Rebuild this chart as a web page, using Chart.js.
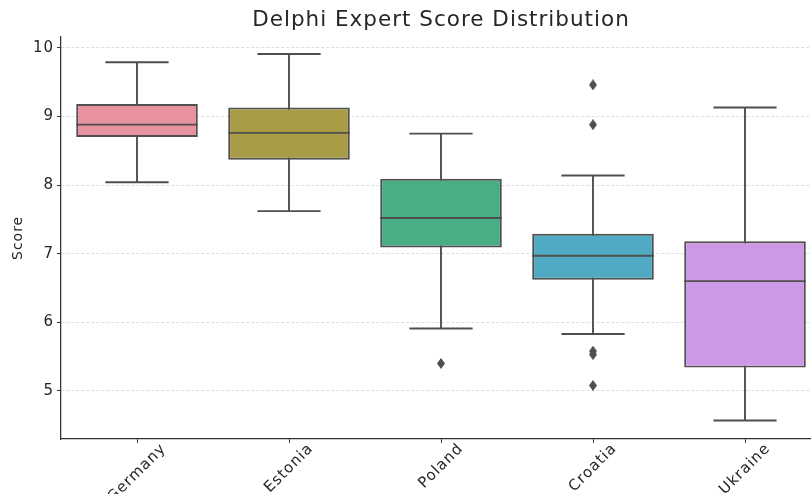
<!DOCTYPE html>
<html>
<head>
<meta charset="utf-8">
<script src="https://cdn.jsdelivr.net/npm/chart.js@4.4.1/dist/chart.umd.min.js"></script>
<style>
  html, body { margin: 0; padding: 0; background: #fff; overflow: hidden; }
  #wrap { width: 882px; height: 494px; }
</style>
</head>
<body>
<div id="wrap"><canvas id="scores" width="882" height="494"></canvas></div>
<script>
const countries = ['Germany', 'Estonia', 'Poland', 'Croatia', 'Ukraine'];
const whiskerLow = [8.04, 7.62, 5.91, 5.83, 4.57];
const q1 = [8.70, 8.37, 7.09, 6.62, 5.34];
const medians = [8.88, 8.76, 7.52, 6.97, 6.60];
const q3 = [9.18, 9.13, 8.09, 7.29, 7.18];
const whiskerHigh = [9.79, 9.91, 8.75, 8.14, 9.13];
const outlierCountry = ['Poland', 'Croatia', 'Croatia', 'Croatia', 'Croatia', 'Croatia'];
const outlierScore = [5.40, 9.46, 8.88, 5.58, 5.53, 5.08];
const boxColors = ['#e8929f', '#a99c47', '#49ae84', '#51aac3', '#cd99e6'];
const scoreTicks = [5, 6, 7, 8, 9, 10];

const fontFamily = '"DejaVu Sans", sans-serif';
const lineGray = '#4f4f4f';
const textColor = '#262626';

// thin diamond like seaborn's 'd' marker
const diamond = document.createElement('canvas');
diamond.width = 8; diamond.height = 11;
(() => {
    const c = diamond.getContext('2d');
    c.fillStyle = lineGray;
    c.beginPath();
    c.moveTo(4, 0); c.lineTo(8, 5.5); c.lineTo(4, 11); c.lineTo(0, 5.5);
    c.closePath();
    c.fill();
})();

// whiskers, caps, medians and the rotated category labels
const boxParts = {
    id: 'boxParts',
    beforeDraw(chart) {
        // the reference text is a bit wider than plain DejaVu
        chart.ctx.letterSpacing = '1px';
    },
    beforeDatasetsDraw(chart) {
        const {ctx, scales: {x, y}} = chart;
        const bars = chart.getDatasetMeta(0).data;
        ctx.save();
        ctx.strokeStyle = lineGray;
        ctx.lineWidth = 1.9;
        countries.forEach((c, i) => {
            const cx = x.getPixelForValue(i);
            const half = bars[i].width * 0.26;
            const lo = y.getPixelForValue(whiskerLow[i]);
            const hi = y.getPixelForValue(whiskerHigh[i]);
            ctx.beginPath();
            ctx.moveTo(cx, lo); ctx.lineTo(cx, hi);
            ctx.moveTo(cx - half, lo); ctx.lineTo(cx + half, lo);
            ctx.moveTo(cx - half, hi); ctx.lineTo(cx + half, hi);
            ctx.stroke();
        });
        ctx.restore();
    },
    afterDatasetsDraw(chart) {
        const {ctx, scales: {x, y}} = chart;
        const bars = chart.getDatasetMeta(0).data;
        ctx.save();
        ctx.strokeStyle = lineGray;
        ctx.lineWidth = 1.9;
        countries.forEach((c, i) => {
            const cx = x.getPixelForValue(i);
            const half = bars[i].width / 2;
            const my = y.getPixelForValue(medians[i]);
            ctx.beginPath();
            ctx.moveTo(cx - half, my); ctx.lineTo(cx + half, my);
            ctx.stroke();
        });
        ctx.restore();
    },
    afterDraw(chart) {
        const {ctx, scales: {x}} = chart;
        ctx.save();
        ctx.font = '15px ' + fontFamily;
        ctx.letterSpacing = '1px';
        ctx.fillStyle = textColor;
        ctx.textAlign = 'center';
        ctx.textBaseline = 'middle';
        countries.forEach((c, i) => {
            const w = ctx.measureText(c).width;
            const cx = x.getPixelForValue(i);
            const cy = x.top + 2 + (w + 15) * Math.SQRT1_2 / 2;
            ctx.save();
            ctx.translate(cx, cy);
            ctx.rotate(-Math.PI / 4);
            ctx.fillText(c, 0, 0);
            ctx.restore();
        });
        ctx.restore();
    }
};

const ctx = document.getElementById('scores');

new Chart(ctx, {
    type: 'bar',
    data: {
        labels: countries,
        datasets: [{
            label: 'IQR',
            data: q1.map((v, i) => [v, q3[i]]),
            backgroundColor: boxColors,
            borderColor: lineGray,
            borderWidth: 1.9,
            borderSkipped: false,
            barPercentage: 0.8,
            categoryPercentage: 1.0
        }, {
            type: 'scatter',
            label: 'Outliers',
            data: outlierCountry.map((c, i) => ({x: c, y: outlierScore[i]})),
            pointStyle: diamond,
            radius: 4
        }]
    },
    options: {
        responsive: false,
        animation: false,
        events: [],
        plugins: {
            legend: {display: false},
            tooltip: {enabled: false},
            title: {
                display: true,
                text: 'Delphi Expert Score Distribution',
                color: textColor,
                font: {family: fontFamily, size: 21.5, weight: 'normal'},
                padding: {top: 8, bottom: 3}
            }
        },
        scales: {
            x: {
                grid: {offset: false, drawOnChartArea: false, drawTicks: true, tickLength: 4, tickColor: '#333', tickWidth: 1},
                border: {display: true, color: '#333', width: 1.25},
                ticks: {display: false},
                afterFit(s) { s.height = 55; }
            },
            y: {
                min: 4.30,
                max: 10.16,
                afterBuildTicks(s) { s.ticks = scoreTicks.map(v => ({value: v})); },
                grid: {color: '#d6d6d6', lineWidth: 0.8, tickLength: 4, tickColor: '#333', tickWidth: 1, tickBorderDash: []},
                border: {display: true, color: '#333', width: 1.25, dash: [3, 2]},
                ticks: {
                    color: textColor,
                    padding: 3,
                    font: {family: fontFamily, size: 15}
                },
                title: {
                    display: true,
                    text: 'Score',
                    color: textColor,
                    font: {family: fontFamily, size: 14},
                    padding: {top: 10, bottom: 0}
                },
                afterFit(s) { s.width = 61; }
            },
            // empty right-hand axis: keeps the plot's right edge off-screen like the cropped original
            spare: {
                type: 'linear',
                position: 'right',
                display: true,
                grid: {display: false},
                border: {display: false},
                ticks: {display: false},
                afterFit(s) { s.width = 61; }
            }
        }
    },
    plugins: [boxParts]
});
</script>
</body>
</html>
